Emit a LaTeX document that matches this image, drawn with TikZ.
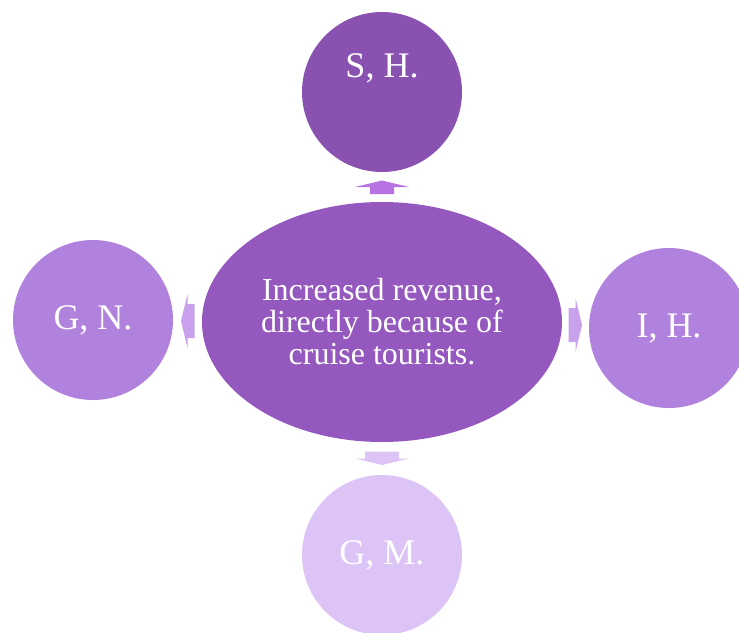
\documentclass[tikz,border=0pt]{standalone}
\usepackage{fontspec}
\setmainfont{Liberation Serif}
\usetikzlibrary{shapes.geometric,calc}
\definecolor{topc}{RGB}{138,82,176}
\definecolor{midc}{RGB}{148,88,190}
\definecolor{sidec}{RGB}{177,130,221}
\definecolor{lowc}{RGB}{221,196,246}
\definecolor{uparr}{RGB}{182,115,225}
\definecolor{sidearr}{RGB}{201,160,236}
\definecolor{lowarr}{RGB}{221,196,246}
\tikzset{
  x=0.75pt, y=-0.75pt,
  shaft/.store in=\shafthw, shaft=12,
  bubbletext/.style={text=white, font=\fontsize{27}{30}\selectfont},
  bubble/.style={circle, draw=none, minimum size=120pt, inner sep=0pt, bubbletext},
  hub/.style={ellipse, draw=none, minimum width=270pt, minimum height=180pt,
    inner sep=0pt, text=white, align=center, fill=midc,
    font=\fontsize{24}{24}\selectfont},
  blockarrow/.pic={
    \fill (-\shafthw,7) -- (-\shafthw,0) -- (-27,0) -- (0,-6.5)
      -- (27,0) -- (\shafthw,0) -- (\shafthw,7) -- cycle;
  }
}
\begin{document}
\begin{tikzpicture}
\useasboundingbox (0,0) rectangle (739,632);
% centre and satellites
\node[hub] (c) at (382,322) {Increased revenue,\\directly because of\\cruise tourists.};
\node[bubble, fill=topc, label={[bubbletext, yshift=18pt]center:S, H.}] (t) at (382,92) {};
\node[bubble, fill=sidec] (l) at (93,320) {G, N.};
\node[bubble, fill=sidec] (r) at (669,328) {I, H.};
\node[bubble, fill=lowc] (b) at (382,555) {G, M.};
% block arrows from the centre outwards
\path ($(c.north)!0.5!(t.south)$) coordinate (au)
      ($(c.west)!0.5!(l.east)$) coordinate (al)
      ($(c.east)!0.5!(r.west)$) coordinate (ar)
      ($(c.south)!0.5!(b.north)$) coordinate (ad);
\pic[fill=uparr, shaft=12] at (au) {blockarrow};
\pic[fill=sidearr, shaft=17, rotate=90] at (al) {blockarrow};
\pic[fill=sidearr, shaft=17, rotate=-90] at (ar) {blockarrow};
\pic[fill=lowarr, shaft=17, rotate=180] at (ad) {blockarrow};
\end{tikzpicture}
\end{document}
